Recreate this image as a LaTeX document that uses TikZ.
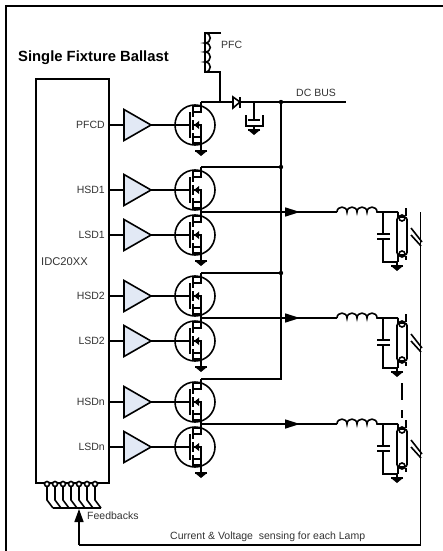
\documentclass[tikz,border=0pt]{standalone}
\usepackage{fontspec}
\setmainfont{Liberation Sans}
\usetikzlibrary{arrows.meta}
\definecolor{buffill}{RGB}{226,233,245}
\tikzset{
    pics/fet/.style={code={
        \draw[wire] (0,0) circle[radius=20pt];
        \draw[wire] (-5,-13) -- (-5,13);
        \draw[wire] (-2,-19) -- (-2,-8) (-2,-5) -- (-2,5) (-2,8) -- (-2,19);
        \draw[wire] (-2,-13) -| (6,-23);
        \draw[wire] (-2,-19) -- (6,-19);
        \draw[wire] (-2,12) -| (6,22);
        \draw[wire] (-2,18) -- (6,18);
        \draw[wire] (6,12) |- (-2,0);
        \fill (-1,0) -- (4,-4) -- (4,4) -- cycle;
        \coordinate (-d) at (6,-23);
        \coordinate (-s) at (6,22);
        \coordinate (-g) at (-5,0);
    }},
    pics/gnd/.style={code={
        \draw[wire] (0,0) -- (0,4) (-6,4) -- (6,4);
        \fill (-6,4) -- (6,4) -- (0,9) -- cycle;
    }},
    pics/lampset/.style={code={
        % coil, capacitor branch and lamp, origin at the left end of the coil
        \draw[wire] (0,0) .. controls (0,-6.5) and (10,-6.5) .. (10,0)
            .. controls (10,-6.5) and (20,-6.5) .. (20,0)
            .. controls (20,-6.5) and (30,-6.5) .. (30,0)
            .. controls (30,-6.5) and (40,-6.5) .. (40,0) -- (61,0);
        \draw[wire] (46,0) -- (46,22) (40,22) -- (53,22) (40,27) -- (53,27)
            (46,27) -- (46,50) -- (61,50);
        \draw[wire, rounded corners=2.5pt] (60,5) rectangle (70,43);
        \draw[wire] (65,6) circle[radius=3pt] (65,42) circle[radius=3pt];
        \draw[wire] (61,0) -- (61,6) (69,-4) -- (69,4) (61,42) -- (61,50) (69,44) -- (69,48);
        \draw[wire] (74,16) -- (85,30) (74,23) -- (84,34);
        \pic at (60,50) {gnd};
    }},
}
\begin{document}
\begin{tikzpicture}[
            x=1pt, y=-1pt,
            wire/.style={line width=1.6pt},
            buf/.style={draw, line width=1.6pt, fill=buffill, line join=miter},
            lab/.style={anchor=west, inner sep=0pt, text=black!80},
            head/.style={-{Triangle[length=15pt,width=9pt]}},
            font={\fontsize{10.5pt}{12}\selectfont}
        ]
        \useasboundingbox (0,0) rectangle (443,551);
        \draw[wire] (443,6) -- (6,6) -- (6,551);
        \draw[wire] (36,79) rectangle (109,483);
        \node[anchor=west, inner sep=0pt, font={\fontsize{14.8pt}{16}\selectfont\bfseries}] (title) at (18,58) {Single Fixture Ballast};
        \node[lab, font={\fontsize{11.2pt}{13}\selectfont}] (ic) at (41,262) {IDC20XX};

        % one driver and fet per channel
        \foreach \nm/\yy in {PFCD/125, HSD1/190, LSD1/235, HSD2/296, LSD2/341, HSDn/402, LSDn/447}{
            \node[lab, anchor=east] (lab\nm) at (105,\yy) {\nm};
            \coordinate (pin\nm) at (109,\yy);
            \coordinate (tip\nm) at (151,\yy);
            \draw[buf] (124,\yy-15.5) -- (151,\yy) -- (124,\yy+15.5) -- cycle;
            \pic (fet\nm) at (195,\yy) {fet};
            \draw[wire] (pin\nm) -- +(15,0);
            \draw[wire] (tip\nm) -- (fet\nm-g);
        }
        \pic at (fetPFCD-s) {gnd};
        \pic at (fetLSD1-s) {gnd};
        \pic at (fetLSD2-s) {gnd};
        \pic at (fetLSDn-s) {gnd};

        % PFC coil, diode, capacitor and bus
        \coordinate (pfctop) at (221,33);
        \coordinate (pfcbot) at (220,72);
        \coordinate (busjoin) at (220,102);
        \coordinate (busdot) at (281,102);
        \coordinate (busend) at (346,102);
        \coordinate (buslow) at (281,379);
        \coordinate (bushs1) at (281,167);
        \coordinate (bushs2) at (281,273);
        \coordinate (capin) at (254,102);
        \draw[wire] (pfctop) -- (205,33) -- (205,72) -- (pfcbot) -- (busjoin);
        \draw[wire] (205,33) .. controls (212,33) and (212,43) .. (205,43)
            .. controls (212,43) and (212,52) .. (205,52)
            .. controls (212,52) and (212,62) .. (205,62)
            .. controls (212,62) and (212,72) .. (205,72);
        \draw[wire] (fetPFCD-d) -- (busend);
        \draw[wire] (busdot) -- (buslow) -- (fetHSDn-d);
        \draw[wire] (bushs1) -- (fetHSD1-d);
        \draw[wire] (bushs2) -- (fetHSD2-d);
        \fill (busdot) circle[radius=2.2pt] (bushs1) circle[radius=2.2pt] (bushs2) circle[radius=2.2pt];
        \draw[wire, fill=white] (233,97) -- (240,102) -- (233,108) -- cycle;
        \draw[wire] (240,97) -- (240,108);
        \draw[wire] (capin) -- (254,120) (248,120) -- (260,120);
        \draw[wire] (246,115) -- (246,126) -- (263,126) -- (263,115);
        \pic at (254,126) {gnd};
        \node[lab] (pfc) at (221,45) {PFC};
        \node[lab] (dcbus) at (296,93) {DC BUS};

        % lamp sections
        \foreach \nm/\yy in {HSD1/212, HSD2/318, HSDn/424}{
            \pic at (337,\yy) {lampset};
            \draw[wire, head] (fet\nm-s) -- (300,\yy);
            \draw[wire] (295,\yy) -- (337,\yy);
        }
        \draw[wire] (402,383) -- (402,400) (402,410) -- (402,418);

        % sense return and feedback pins
        \coordinate (sensetop) at (420.5,212);
        \coordinate (sensecor) at (420.5,545);
        \coordinate (fbcor) at (79,545);
        \coordinate (fbtip) at (79,509);
        \foreach \xx in {47,55,63,71,79,87,95}{
            \draw[wire] (\xx,486) -- (\xx,500) -- (\xx+6,508);
            \draw[wire, fill=white] (\xx,484) circle[radius=2.5pt];
        }
        \draw[wire] (53,508) -- (101,508);
        \draw[wire] (sensetop) -- (sensecor) -- (fbcor);
        \draw[wire, -{Triangle[length=13pt,width=9pt]}] (fbcor) -- (fbtip);
        \node[lab] (fb) at (87,516) {Feedbacks};
        \node[lab] (sense) at (170,537) {Current \& Voltage\ \ sensing for each Lamp};
    \end{tikzpicture}
\end{document}
